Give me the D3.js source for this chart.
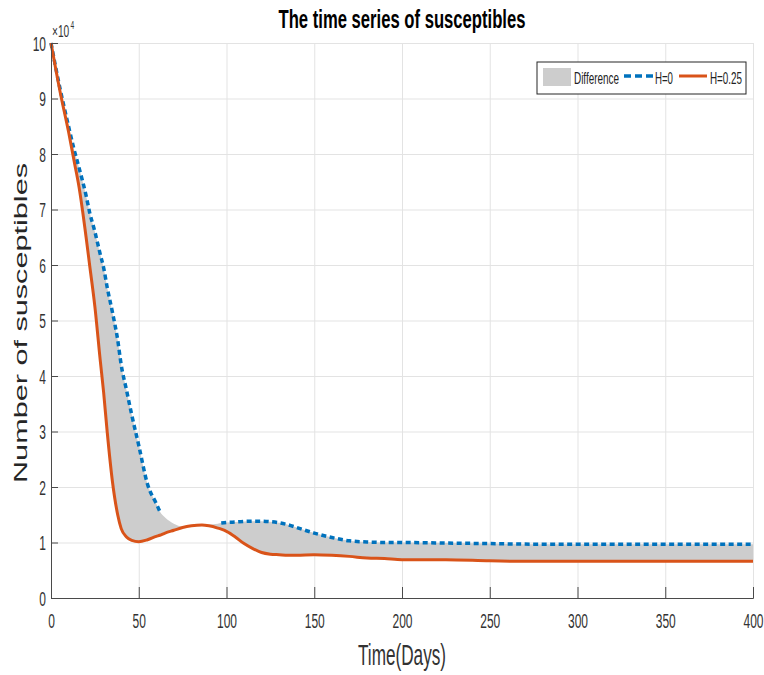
<!DOCTYPE html>
<html>
<head>
<meta charset="utf-8">
<script src="https://cdn.jsdelivr.net/npm/d3@7"></script>
<style>
  body { margin: 0; background: #fff; }
  text { font-family: "Liberation Sans", Arial, sans-serif; }
</style>
</head>
<body>
<svg id="chart"></svg>
<script>
// time axis (days) and the two simulated series, in units of 10^4
var days = [0, 5, 10, 13, 16, 20, 22, 25, 28, 30, 32, 35, 38, 40, 43, 46, 50, 55, 60, 62, 65, 70, 75, 80, 86, 90, 95, 97,
    100, 105, 110, 115, 120, 125, 130, 135, 140, 150, 160, 170, 180, 190, 200, 225, 250, 275, 300, 350, 400]
var susH0 = [10, 9.2, 8.5, 8.1, 7.75, 7.25, 6.95, 6.6, 6.2, 5.95, 5.6, 5.15, 4.65, 4.2, 3.75, 3.3, 2.75, 2.05, 1.7, 1.56,
    1.45, 1.34, 1.29, 1.29, 1.31, 1.32, 1.34, 1.35,
    1.36, 1.37, 1.38, 1.385, 1.385, 1.375, 1.355, 1.32, 1.27, 1.17, 1.09, 1.03, 1.01, 1.0, 1.0, 0.99, 0.98, 0.97, 0.97, 0.97, 0.97]
var susH025 = [10, 9.15, 8.4, 7.9, 7.4, 6.5, 6.0, 5.25, 4.3, 3.7, 3.0, 2.1, 1.5, 1.25, 1.1, 1.04, 1.015, 1.05, 1.11, 1.13,
    1.17, 1.22, 1.27, 1.3, 1.315, 1.3, 1.26, 1.24,
    1.2, 1.1, 0.98, 0.89, 0.82, 0.79, 0.78, 0.77, 0.77, 0.78, 0.77, 0.75, 0.72, 0.71, 0.69, 0.69, 0.67, 0.66, 0.66, 0.66, 0.66]

var xTicks = [0, 50, 100, 150, 200, 250, 300, 350, 400]
var yTicks = [0, 1, 2, 3, 4, 5, 6, 7, 8, 9, 10]
var legendLabels = ["Difference", "H=0", "H=0.25"]

var data = days.map(function(t, i) { return {t: t, h0: susH0[i], h25: susH025[i]} })

// set the dimensions and margins of the graph
var margin = {top: 43, right: 11, bottom: 77, left: 51},
    width = 764 - margin.left - margin.right,
    height = 675 - margin.top - margin.bottom;

var svgRoot = d3.select("#chart")
    .attr("width", 764)
    .attr("height", 675)

var svg = svgRoot.append("g")
    .attr("transform", "translate(" + margin.left + "," + margin.top + ")");

var x = d3.scaleLinear().domain([0, 400]).range([0, width])
var y = d3.scaleLinear().domain([0, 10]).range([height, 0])

var blue = "#0072BD", orange = "#D95319"
var squeeze = 0.6   // the picture is squashed sideways

// grid
svg.append("g")
    .attr("transform", "translate(0," + height + ")")
    .call(d3.axisBottom(x).tickValues(xTicks).tickSize(-height).tickFormat(""))
    .call(g => g.select(".domain").remove())
    .selectAll("line").attr("stroke", "#e3e3e3")
svg.append("g")
    .call(d3.axisLeft(y).tickValues(yTicks).tickSize(-width).tickFormat(""))
    .call(g => g.select(".domain").remove())
    .selectAll("line").attr("stroke", "#e3e3e3")

// difference band
var band = d3.area()
    .x(d => x(d.t))
    .y0(d => y(d.h25))
    .y1(d => y(d.h0))
    .curve(d3.curveMonotoneX)
svg.append("path").datum(data)
    .attr("d", band)
    .attr("fill", "#cdcdcd")

// H=0, dotted (hidden under the band where it meets the other curve)
svg.append("path").datum(data)
    .attr("d", d3.line().x(d => x(d.t)).y(d => y(d.h0))
        .defined(d => d.t <= 62 || d.t >= 97)
        .curve(d3.curveMonotoneX))
    .attr("fill", "none")
    .attr("stroke", blue)
    .attr("stroke-width", 3.5)
    .attr("stroke-dasharray", "5,3.5")

// H=0.25
svg.append("path").datum(data)
    .attr("d", d3.line().x(d => x(d.t)).y(d => y(d.h25)).curve(d3.curveMonotoneX))
    .attr("fill", "none")
    .attr("stroke", orange)
    .attr("stroke-width", 3)

// axes, ticks pointing inside
var xAxis = svg.append("g")
    .attr("transform", "translate(0," + height + ")")
    .call(d3.axisBottom(x).tickValues(xTicks).tickSize(-11).tickPadding(0))
xAxis.select(".domain").attr("stroke", "#4a4a4a")
xAxis.selectAll("line").attr("stroke", "#4a4a4a")
xAxis.selectAll("text")
    .attr("y", 30).attr("dy", 0)
    .attr("font-size", 20)
    .attr("fill", "#333")
    .attr("transform", "scale(" + squeeze + ",1)")

var yAxis = svg.append("g")
    .call(d3.axisLeft(y).tickValues(yTicks).tickSize(-7).tickPadding(0))
yAxis.select(".domain").attr("stroke", "#4a4a4a")
yAxis.selectAll("line").attr("stroke", "#4a4a4a")
yAxis.selectAll("text")
    .attr("x", -5 / squeeze).attr("dy", "0.36em")
    .attr("font-size", 20)
    .attr("fill", "#333")
    .attr("transform", "scale(" + squeeze + ",1)")

// exponent, one text so the superscript sits with it
var expo = svg.append("text")
    .attr("transform", "translate(1,-6) scale(" + squeeze + ",1)")
    .attr("font-size", 17).attr("fill", "#333")
expo.append("tspan").text("\u00d710")
expo.append("tspan").attr("dx", 2).attr("dy", -8).attr("font-size", 11).text("4")

// title and axis labels
svgRoot.append("text")
    .attr("x", 402).attr("y", 28)
    .attr("text-anchor", "middle")
    .attr("font-size", 25).attr("font-weight", "bold")
    .attr("textLength", 247).attr("lengthAdjust", "spacingAndGlyphs")
    .text("The time series of susceptibles")

svgRoot.append("text")
    .attr("x", 402).attr("y", 665)
    .attr("text-anchor", "middle")
    .attr("font-size", 30).attr("fill", "#333")
    .attr("textLength", 88).attr("lengthAdjust", "spacingAndGlyphs")
    .text("Time(Days)")

svgRoot.append("text")
    .attr("transform", "translate(27,323) rotate(-90)")
    .attr("text-anchor", "middle")
    .attr("font-size", 18).attr("fill", "#262626")
    .attr("textLength", 320).attr("lengthAdjust", "spacingAndGlyphs")
    .text("Number of susceptibles")

// legend
var legend = svgRoot.append("g").attr("transform", "translate(537,62)")
legend.append("rect")
    .attr("width", 209).attr("height", 32)
    .attr("fill", "#fff").attr("stroke", "#262626").attr("stroke-width", 1)
legend.append("rect")
    .attr("x", 6).attr("y", 6).attr("width", 28).attr("height", 18)
    .attr("fill", "#cdcdcd")
legend.append("line")
    .attr("x1", 87).attr("x2", 116).attr("y1", 14).attr("y2", 14)
    .attr("stroke", blue).attr("stroke-width", 3.5).attr("stroke-dasharray", "7,4")
legend.append("line")
    .attr("x1", 142).attr("x2", 170).attr("y1", 14).attr("y2", 14)
    .attr("stroke", orange).attr("stroke-width", 3)
var legendX = [37, 118, 173], legendW = [45, 18, 32]
legend.selectAll(".lab")
    .data(legendLabels)
    .enter().append("text")
    .attr("x", (d, i) => legendX[i]).attr("y", 22)
    .attr("font-size", 16).attr("fill", "#222")
    .attr("textLength", (d, i) => legendW[i]).attr("lengthAdjust", "spacingAndGlyphs")
    .text(d => d)
</script>
</body>
</html>
